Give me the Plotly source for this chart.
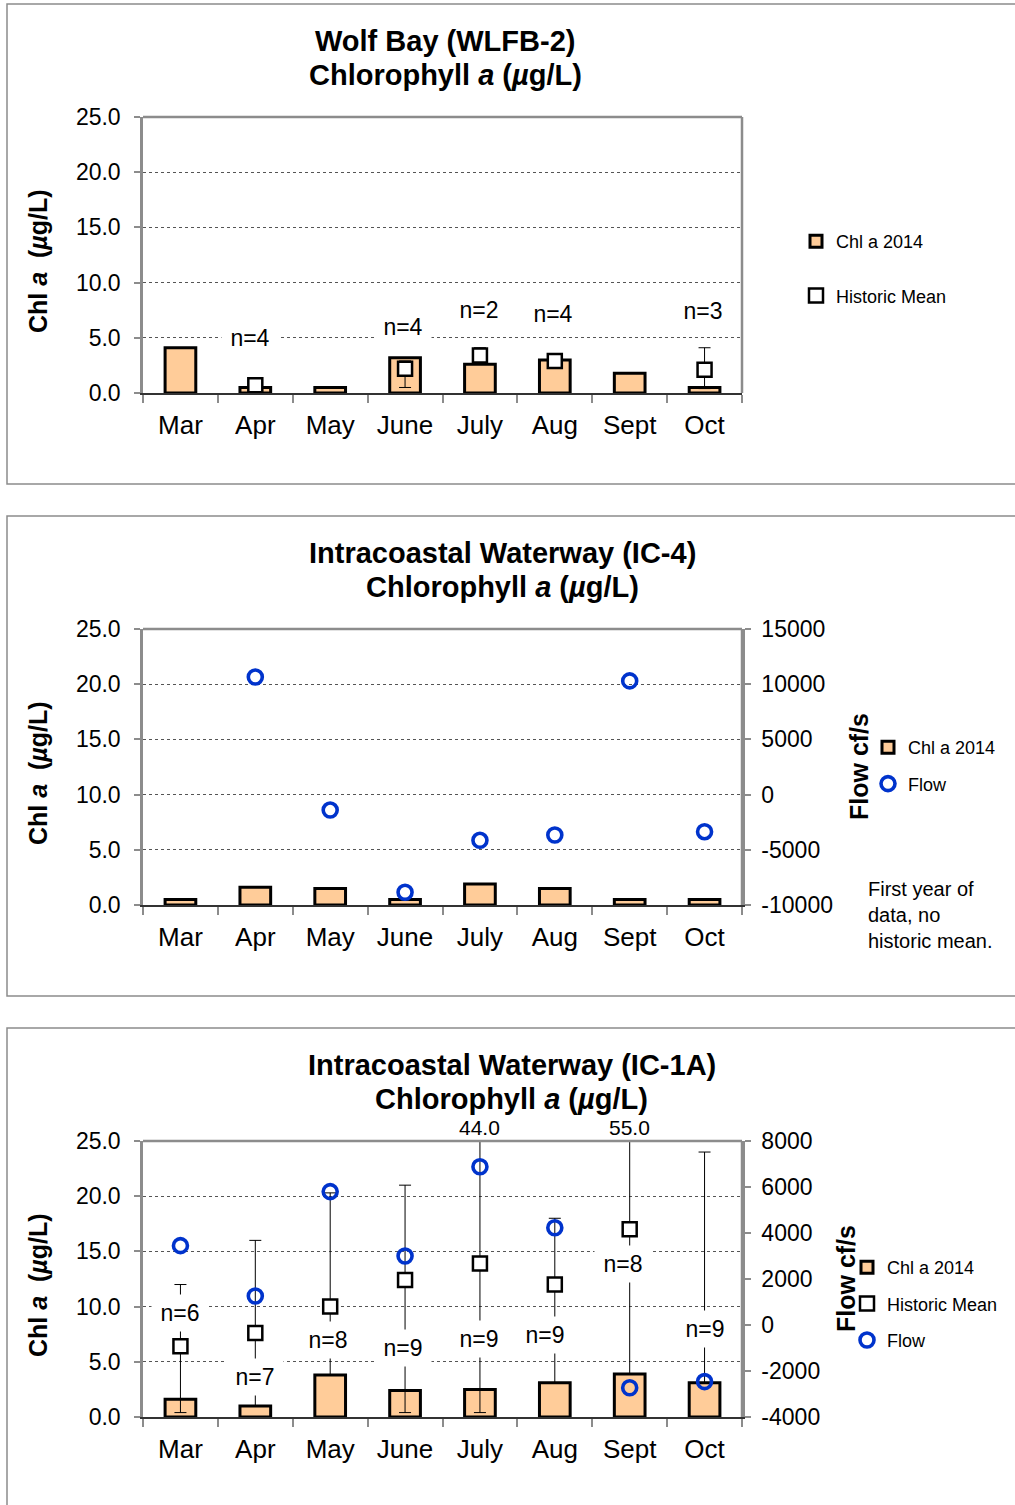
import plotly.graph_objects as go

# ---- data -----------------------------------------------------------------
months = ["Mar", "Apr", "May", "June", "July", "Aug", "Sept", "Oct"]

# Wolf Bay (WLFB-2)
wlfb_chl = [4.1, 0.5, 0.5, 3.2, 2.6, 3.0, 1.8, 0.5]
wlfb_mean = [None, 0.7, None, 2.2, 3.4, 2.9, None, 2.1]
wlfb_max = [None, 1.4, None, 2.9, 4.1, 3.1, None, 4.1]
wlfb_min = [None, 0.3, None, 0.5, 2.7, 2.7, None, 0.4]
wlfb_n = [None, 4, None, 4, 2, 4, None, 3]

# Intracoastal Waterway (IC-4)
ic4_chl = [0.5, 1.6, 1.5, 0.5, 1.9, 1.5, 0.5, 0.5]
ic4_flow = [None, 10650, -1400, -8850, -4140, -3660, 10300, -3360]

# Intracoastal Waterway (IC-1A)
ic1a_chl = [1.6, 1.0, 3.8, 2.4, 2.5, 3.1, 3.9, 3.1]
ic1a_mean = [6.4, 7.6, 10.0, 12.4, 13.9, 12.0, 17.0, 8.0]
ic1a_max = [12.0, 16.0, 20.3, 21.0, 44.0, 18.0, 55.0, 24.0]
ic1a_min = [0.4, 1.0, 3.8, 0.4, 0.4, 3.1, 3.9, 3.1]
ic1a_n = [6, 7, 8, 9, 9, 9, 8, 9]
ic1a_flow = [3450, 1260, 5800, 3000, 6880, 4230, -2730, -2460]

chl_ticks = [0, 5, 10, 15, 20, 25]
ic4_flow_ticks = [-10000, -5000, 0, 5000, 10000, 15000]
ic1a_flow_ticks = [-4000, -2000, 0, 2000, 4000, 6000, 8000]

# ---- page geometry (pixels) ----------------------------------------------
W, H = 1015, 1505
FONT = "Liberation Sans, Arial, sans-serif"
PEACH = "#FFCC99"
BLUE = "#0033CC"
GRAY = "#8c8c8c"
X_LEFT, X_RIGHT = 143, 742
PLOTS = [(117, 393), (629, 905), (1141, 1417)]
FRAMES = [(4, 484), (516, 996), (1028, 1540)]


def fx(px):
    return px / W


def fy(py):
    return 1 - py / H


def err(mean, hi, lo):
    plus = [(h - m) if m is not None else None for m, h in zip(mean, hi)]
    minus = [(m - l) if m is not None else None for m, l in zip(mean, lo)]
    return dict(type="data", symmetric=False, array=plus, arrayminus=minus,
                color="black", thickness=1, width=6)


fig = go.Figure()


def chl_bars(vals, xa, ya, legend, group):
    fig.add_trace(go.Bar(
        x=months, y=vals, xaxis=xa, yaxis=ya, name="Chl a 2014",
        width=0.41, marker=dict(color=PEACH, line=dict(color="black", width=3)),
        legend=legend, legendgroup=group + "a", showlegend=True))


def mean_pts(mean, hi, lo, xa, ya, legend, group):
    fig.add_trace(go.Scatter(
        x=months, y=mean, xaxis=xa, yaxis=ya, name="Historic Mean", mode="markers",
        marker=dict(symbol="square", size=14, color="white",
                    line=dict(color="black", width=2.5)),
        error_y=err(mean, hi, lo),
        legend=legend, legendgroup=group + "b"))


def flow_pts(flow, xa, ya, legend, group):
    fig.add_trace(go.Scatter(
        x=months, y=flow, xaxis=xa, yaxis=ya, name="Flow", mode="markers",
        marker=dict(symbol="circle-open", size=14, color=BLUE,
                    line=dict(color=BLUE, width=3.6)),
        legend=legend, legendgroup=group + "c"))


# panel 1
chl_bars(wlfb_chl, "x", "y", "legend", "p1")
mean_pts(wlfb_mean, wlfb_max, wlfb_min, "x", "y", "legend", "p1")
# panel 2
chl_bars(ic4_chl, "x2", "y2", "legend2", "p2")
flow_pts(ic4_flow, "x2", "y4", "legend2", "p2")
# panel 3
chl_bars(ic1a_chl, "x3", "y3", "legend3", "p3")
mean_pts(ic1a_mean, ic1a_max, ic1a_min, "x3", "y3", "legend3", "p3")
flow_pts(ic1a_flow, "x3", "y5", "legend3", "p3")

# ---- axes ----------------------------------------------------------------
xbase = dict(type="category", categoryorder="array", categoryarray=months,
             range=[-0.5, 7.5], showline=True, linecolor="#333", linewidth=2,
             ticks="outside", tickson="boundaries", ticklen=8, tickcolor=GRAY,
             tickwidth=1.5, tickfont=dict(size=26, color="black"),
             showgrid=False, zeroline=False, fixedrange=True,
             domain=[fx(X_LEFT), fx(X_RIGHT)], ticklabelstandoff=8)
ybase = dict(range=[0, 25], tickvals=chl_ticks,
             ticktext=[f"{v:.1f}" for v in chl_ticks],
             showline=True, linecolor=GRAY, linewidth=2.5, ticks="outside",
             ticklen=6, tickcolor=GRAY, tickwidth=1.5,
             tickfont=dict(size=23, color="black"), showgrid=True,
             gridcolor="#555", griddash="dot", gridwidth=1, zeroline=False,
             fixedrange=True, ticklabelstandoff=9)

layout_axes = {}
for i, (top, bot) in enumerate(PLOTS):
    sfx = "" if i == 0 else str(i + 1)
    xa = dict(xbase, anchor="y" + sfx)
    ya = dict(ybase, anchor="x" + sfx, domain=[fy(bot), fy(top)])
    layout_axes["xaxis" + sfx] = xa
    layout_axes["yaxis" + sfx] = ya


def right_axis(ticks, over, anchor, top, bot):
    return dict(range=[ticks[0], ticks[-1]], tickvals=ticks,
                ticktext=[str(v) for v in ticks], overlaying=over, side="right",
                anchor=anchor, showline=True, linecolor=GRAY, linewidth=2.5,
                ticks="outside", ticklen=6, tickcolor=GRAY, tickwidth=1.5,
                tickfont=dict(size=23, color="black"), showgrid=False,
                zeroline=False, fixedrange=True, ticklabelstandoff=6,
                domain=[fy(bot), fy(top)])


layout_axes["yaxis4"] = right_axis(ic4_flow_ticks, "y2", "x2", *PLOTS[1])
layout_axes["yaxis5"] = right_axis(ic1a_flow_ticks, "y3", "x3", *PLOTS[2])

# ---- frames --------------------------------------------------------------
shapes = []
for top, bot in FRAMES:
    shapes.append(dict(type="rect", xref="paper", yref="paper",
                       x0=fx(7), x1=fx(1040), y0=fy(bot), y1=fy(top),
                       line=dict(color=GRAY, width=1.5), layer="below"))
# top and right edges of each plot area
for top, bot in PLOTS:
    shapes.append(dict(type="line", xref="paper", yref="paper",
                       x0=fx(X_LEFT), x1=fx(X_RIGHT), y0=fy(top), y1=fy(top),
                       line=dict(color=GRAY, width=2.5), layer="above"))
    shapes.append(dict(type="line", xref="paper", yref="paper",
                       x0=fx(X_RIGHT), x1=fx(X_RIGHT), y0=fy(top), y1=fy(bot),
                       line=dict(color=GRAY, width=2.5), layer="above"))

# ---- text ----------------------------------------------------------------
ann = []


def text(x, y, s, size, bold=False, xanchor="center", angle=0, **kw):
    ann.append(dict(xref="paper", yref="paper", x=fx(x), y=fy(y),
                    text=f"<b>{s}</b>" if bold else s, showarrow=False,
                    xanchor=xanchor, yanchor="middle", textangle=angle,
                    font=dict(size=size, color="black", family=FONT), **kw))


sub_title = "Chlorophyll <i>a</i> (<i>µ</i>g/L)"
text(445, 41, "Wolf Bay (WLFB-2)", 29, True)
text(445, 75, sub_title, 29, True)
text(502, 553, "Intracoastal Waterway (IC-4)", 29, True)
text(502, 587, sub_title, 29, True)
text(512, 1065, "Intracoastal Waterway (IC-1A)", 29, True)
text(512, 1099, sub_title, 29, True)

ytitle = "Chl <i>a</i>  (<i>µ</i>g/L)"
for top, bot in PLOTS:
    text(38, (top + bot) / 2 + 6, ytitle, 25, True, angle=-90)
text(859, 767, "Flow cf/s", 25, True, angle=-90)
text(846, 1279, "Flow cf/s", 25, True, angle=-90)

text(866, 915, "First year of<br>data, no<br>historic mean.", 20,
     xanchor="left", align="left")

# sample-count labels (placement per month in axis units)
wlfb_n_pos = [None, 5.0, None, 6.0, 7.5, 7.15, None, 7.4]
ic1a_n_pos = [9.4, 3.6, 7.0, 6.25, 7.05, 7.4, 13.9, 8.0]
wlfb_n_dx = [0, -5, 0, -2, -1, -2, 0, -2]
ic1a_n_dx = [0, 0, -2, -2, -1, -10, -7, 0]


def n_labels(ns, pos, dxs, xa, ya):
    for m, n, p, dx in zip(months, ns, pos, dxs):
        if n is None:
            continue
        ann.append(dict(xref=xa, yref=ya, x=m, y=p, text=f"n={n}",
                        showarrow=False, xshift=dx, bgcolor="white",
                        width=48, height=28, borderpad=4,
                        font=dict(size=23, color="black", family=FONT)))


n_labels(wlfb_n, wlfb_n_pos, wlfb_n_dx, "x", "y")
n_labels(ic1a_n, ic1a_n_pos, ic1a_n_dx, "x3", "y3")

# maxima that run past the top of the axis
for m, hi in zip(months, ic1a_max):
    if hi > chl_ticks[-1]:
        ann.append(dict(xref="x3", yref="y3", x=m, y=chl_ticks[-1],
                        text=f"{hi:.1f}", showarrow=False, yanchor="bottom",
                        yshift=0, font=dict(size=21, color="black", family=FONT)))

# ---- legends -------------------------------------------------------------
leg = dict(font=dict(size=18, color="black", family=FONT), traceorder="grouped",
           bgcolor="rgba(0,0,0,0)", itemwidth=30, xanchor="left", yanchor="top",
           xref="paper", yref="paper")

fig.update_layout(
    width=W, height=H, margin=dict(l=0, r=0, t=0, b=0, autoexpand=False),
    paper_bgcolor="white", plot_bgcolor="white",
    font=dict(family=FONT, color="black"),
    barmode="overlay", showlegend=True,
    legend=dict(leg, x=fx(796), y=fy(223), tracegroupgap=28),
    legend2=dict(leg, x=fx(868), y=fy(729), tracegroupgap=10),
    legend3=dict(leg, x=fx(847), y=fy(1249), tracegroupgap=10),
    shapes=shapes, annotations=ann, **layout_axes)

fig.write_html("out.html")
